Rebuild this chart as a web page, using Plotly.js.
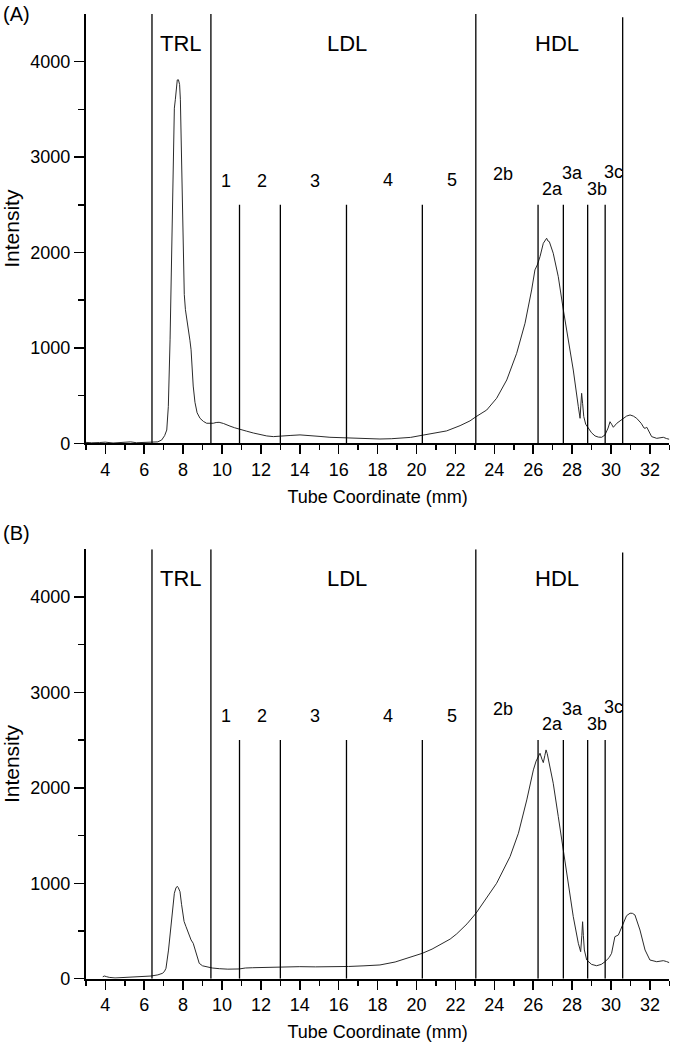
<!DOCTYPE html>
<html>
<head>
<meta charset="utf-8">
<script src="https://cdn.plot.ly/plotly-3.0.1.min.js"></script>
<style>html,body{margin:0;padding:0;background:#fff;}#chart{width:673px;height:1047px;}</style>
</head>
<body>
<div id="chart"></div>
<script>
// ---- Panel (A) trace ----
const xA = [3.0,3.3,3.7,4.0,4.4,4.8,5.1,5.3,5.6,6.0,6.4,6.7,6.9,7.05,7.16,7.24,7.33,7.41,7.46,7.5,7.55,7.6,7.65,7.7,7.76,7.82,7.86,7.89,7.93,7.98,8.02,8.06,8.12,8.2,8.27,8.35,8.41,8.47,8.52,8.61,8.72,8.87,9.04,9.21,9.38,9.55,9.7,9.85,10.07,10.24,10.41,10.65,10.93,11.25,11.61,12.0,12.3,12.64,12.98,13.5,14.01,14.5,15.04,15.55,16.07,16.5,17.3,18.12,18.7,19.15,19.7,20.18,20.86,21.55,22.24,22.75,23.06,23.61,24.12,24.64,25.15,25.58,25.92,26.09,26.21,26.35,26.52,26.62,26.69,26.76,26.83,27.03,27.29,27.55,27.8,28.06,28.32,28.41,28.45,28.49,28.54,28.6,28.7,28.83,29.0,29.18,29.35,29.52,29.69,29.85,29.95,30.03,30.12,30.3,30.55,30.8,30.98,31.15,31.32,31.55,31.7,31.75,31.84,31.95,32.09,32.35,32.5,32.69,32.85,33.0];
const yA = [10,5,8,12,3,5,12,15,6,8,10,15,35,80,139,384,1084,2131,2830,3354,3512,3600,3760,3808,3810,3760,3600,3300,2833,2131,1800,1560,1400,1300,1222,1080,980,780,600,430,320,262,230,210,208,210,218,220,208,192,180,163,143,128,108,90,77,70,72,82,88,84,72,63,58,55,50,45,48,52,62,80,105,130,185,235,279,349,472,664,943,1258,1607,1817,1869,1956,2096,2130,2149,2120,2113,1992,1746,1397,1083,768,384,262,400,524,419,280,200,157,110,77,65,63,87,160,226,200,168,210,244,285,297,285,262,210,160,157,168,120,70,52,58,63,50,42];

// ---- Panel (B) trace ----
const xB = [3.87,3.95,4.05,4.2,4.5,4.72,5.0,5.3,5.58,6.0,6.35,6.7,6.95,7.05,7.12,7.25,7.38,7.47,7.55,7.63,7.7,7.75,7.84,7.92,7.98,8.05,8.15,8.3,8.41,8.52,8.6,8.66,8.75,8.83,9.0,9.18,9.5,9.86,10.3,10.89,11.2,11.58,12.4,13.29,14.0,14.8,15.69,16.5,17.3,18.12,18.9,19.5,20.3,20.8,21.21,21.73,22.07,22.6,23.06,23.6,24.12,24.81,25.24,25.67,26.01,26.15,26.26,26.35,26.45,26.52,26.6,26.66,26.72,26.78,27.03,27.29,27.55,27.8,28.06,28.32,28.44,28.5,28.54,28.58,28.63,28.75,29.0,29.26,29.5,29.69,29.9,30.03,30.2,30.38,30.5,30.63,30.8,30.98,31.1,31.23,31.49,31.75,32.0,32.35,32.5,32.69,32.85,33.0];
const yB = [20,28,22,14,8,10,12,15,18,22,28,40,57,80,109,300,545,750,895,950,968,955,912,780,686,600,545,460,406,371,310,266,200,161,135,126,112,105,100,102,112,115,120,126,126,124,123,128,135,144,175,214,266,310,353,415,470,575,686,843,1000,1279,1524,1873,2188,2280,2327,2362,2300,2264,2340,2397,2360,2292,2048,1698,1349,1000,650,371,283,450,597,450,301,196,150,136,150,178,220,266,440,458,520,581,660,686,685,668,510,301,196,178,185,189,180,168];

// ---- Region boundaries and labels ----
const boundaryX = [6.4, 9.43, 23.05, 30.6];
const boundaryTop = [4500, 4500, 4500, 4465];
const subclassX = [10.9, 13.0, 16.4, 20.3, 26.25, 27.55, 28.8, 29.7];
const subclassTop = 2500;
const regionLabels = ['TRL', 'LDL', 'HDL'];
const regionLabelX = [7.87, 16.45, 27.2];
const regionLabelY = 4195;
const subLabels = ['1', '2', '3', '4', '5', '2b', '2a', '3a', '3b', '3c'];
const subLabelX = [10.18, 12.04, 14.77, 18.52, 21.81, 24.46, 26.98, 28.02, 29.28, 30.15];
const subLabelY = [2750, 2750, 2750, 2755, 2755, 2823, 2669, 2830, 2669, 2847];
const panelLabels = ['(A)', '(B)'];
const xTicks = [4, 6, 8, 10, 12, 14, 16, 18, 20, 22, 24, 26, 28, 30, 32];
const yTicks = [0, 1000, 2000, 3000, 4000];

const FONT = 'Liberation Sans, Arial, Helvetica, sans-serif';
const W = 673, H = 1047;

function trace(x, y, xa, ya) {
  return {x: x, y: y, xaxis: xa, yaxis: ya, type: 'scatter', mode: 'lines',
    line: {color: '#2a2a2a', width: 1}, hoverinfo: 'skip'};
}

const data = [trace(xA, yA, 'x', 'y'), trace(xB, yB, 'x2', 'y2')];

const shapes = [];
const annotations = [];
[['x', 'y'], ['x2', 'y2']].forEach(([xr, yr], p) => {
  boundaryX.forEach((bx, i) => shapes.push({type: 'line', xref: xr, yref: yr,
    x0: bx, x1: bx, y0: 0, y1: boundaryTop[i], line: {color: '#000', width: 1.3}}));
  subclassX.forEach(sx => shapes.push({type: 'line', xref: xr, yref: yr,
    x0: sx, x1: sx, y0: 0, y1: subclassTop, line: {color: '#000', width: 1.3}}));
  regionLabels.forEach((t, i) => annotations.push({text: t, xref: xr, yref: yr,
    x: regionLabelX[i], y: regionLabelY, showarrow: false, xanchor: 'center', yanchor: 'middle',
    font: {family: FONT, size: 22, color: '#000'}}));
  subLabels.forEach((t, i) => annotations.push({text: t, xref: xr, yref: yr,
    x: subLabelX[i], y: subLabelY[i], showarrow: false, xanchor: 'center', yanchor: 'middle',
    font: {family: FONT, size: 18, color: '#000'}}));
});
annotations.push({text: panelLabels[0], xref: 'paper', yref: 'paper', x: 0.5 / W, y: 1 - 1 / H,
  xanchor: 'left', yanchor: 'top', showarrow: false, font: {family: FONT, size: 20, color: '#000'}});
annotations.push({text: panelLabels[1], xref: 'paper', yref: 'paper', x: 0.5 / W, y: 1 - 520 / H,
  xanchor: 'left', yanchor: 'top', showarrow: false, font: {family: FONT, size: 20, color: '#000'}});

function xaxis(anchor, dom) {
  return {domain: dom, anchor: anchor, range: [3, 33], tickmode: 'array', tickvals: xTicks,
    ticks: 'outside', ticklen: 9, tickwidth: 1.5, tickcolor: '#000',
    minor: {ticks: 'outside', ticklen: 5, tickwidth: 1.5, tickcolor: '#000', tickmode: 'linear', tick0: 3, dtick: 1},
    showline: true, linewidth: 2, linecolor: '#000', showgrid: false, zeroline: false,
    tickfont: {family: FONT, size: 18, color: '#000'},
    title: {text: 'Tube Coordinate (mm)', font: {family: FONT, size: 18, color: '#000'}, standoff: 11},
    automargin: false, fixedrange: true};
}
function yaxis(anchor, dom) {
  return {domain: dom, anchor: anchor, range: [0, 4499], tickmode: 'array', tickvals: yTicks,
    ticks: 'outside', ticklen: 10, tickwidth: 1.5, tickcolor: '#000',
    minor: {ticks: 'outside', ticklen: 6, tickwidth: 1.5, tickcolor: '#000', tickmode: 'linear', tick0: 0, dtick: 500},
    showline: true, linewidth: 2, linecolor: '#000', showgrid: false, zeroline: false,
    tickfont: {family: FONT, size: 18, color: '#000'},
    title: {text: 'Intensity', font: {family: FONT, size: 21, color: '#000'}, standoff: 5},
    automargin: false, fixedrange: true};
}

const xDom = [85.85 / W, 669.35 / W];
const layout = {
  width: W, height: H,
  margin: {l: 0, r: 0, t: 0, b: 0},
  paper_bgcolor: '#fff', plot_bgcolor: 'rgba(0,0,0,0)',
  showlegend: false,
  xaxis: xaxis('y', xDom),
  yaxis: yaxis('x', [1 - 443.3 / H, 1 - 14 / H]),
  xaxis2: xaxis('y2', xDom),
  yaxis2: yaxis('x2', [1 - 978.7 / H, 1 - 549.3 / H]),
  shapes: shapes,
  annotations: annotations
};

Plotly.newPlot('chart', data, layout, {displayModeBar: false, staticPlot: true});
</script>
</body>
</html>
